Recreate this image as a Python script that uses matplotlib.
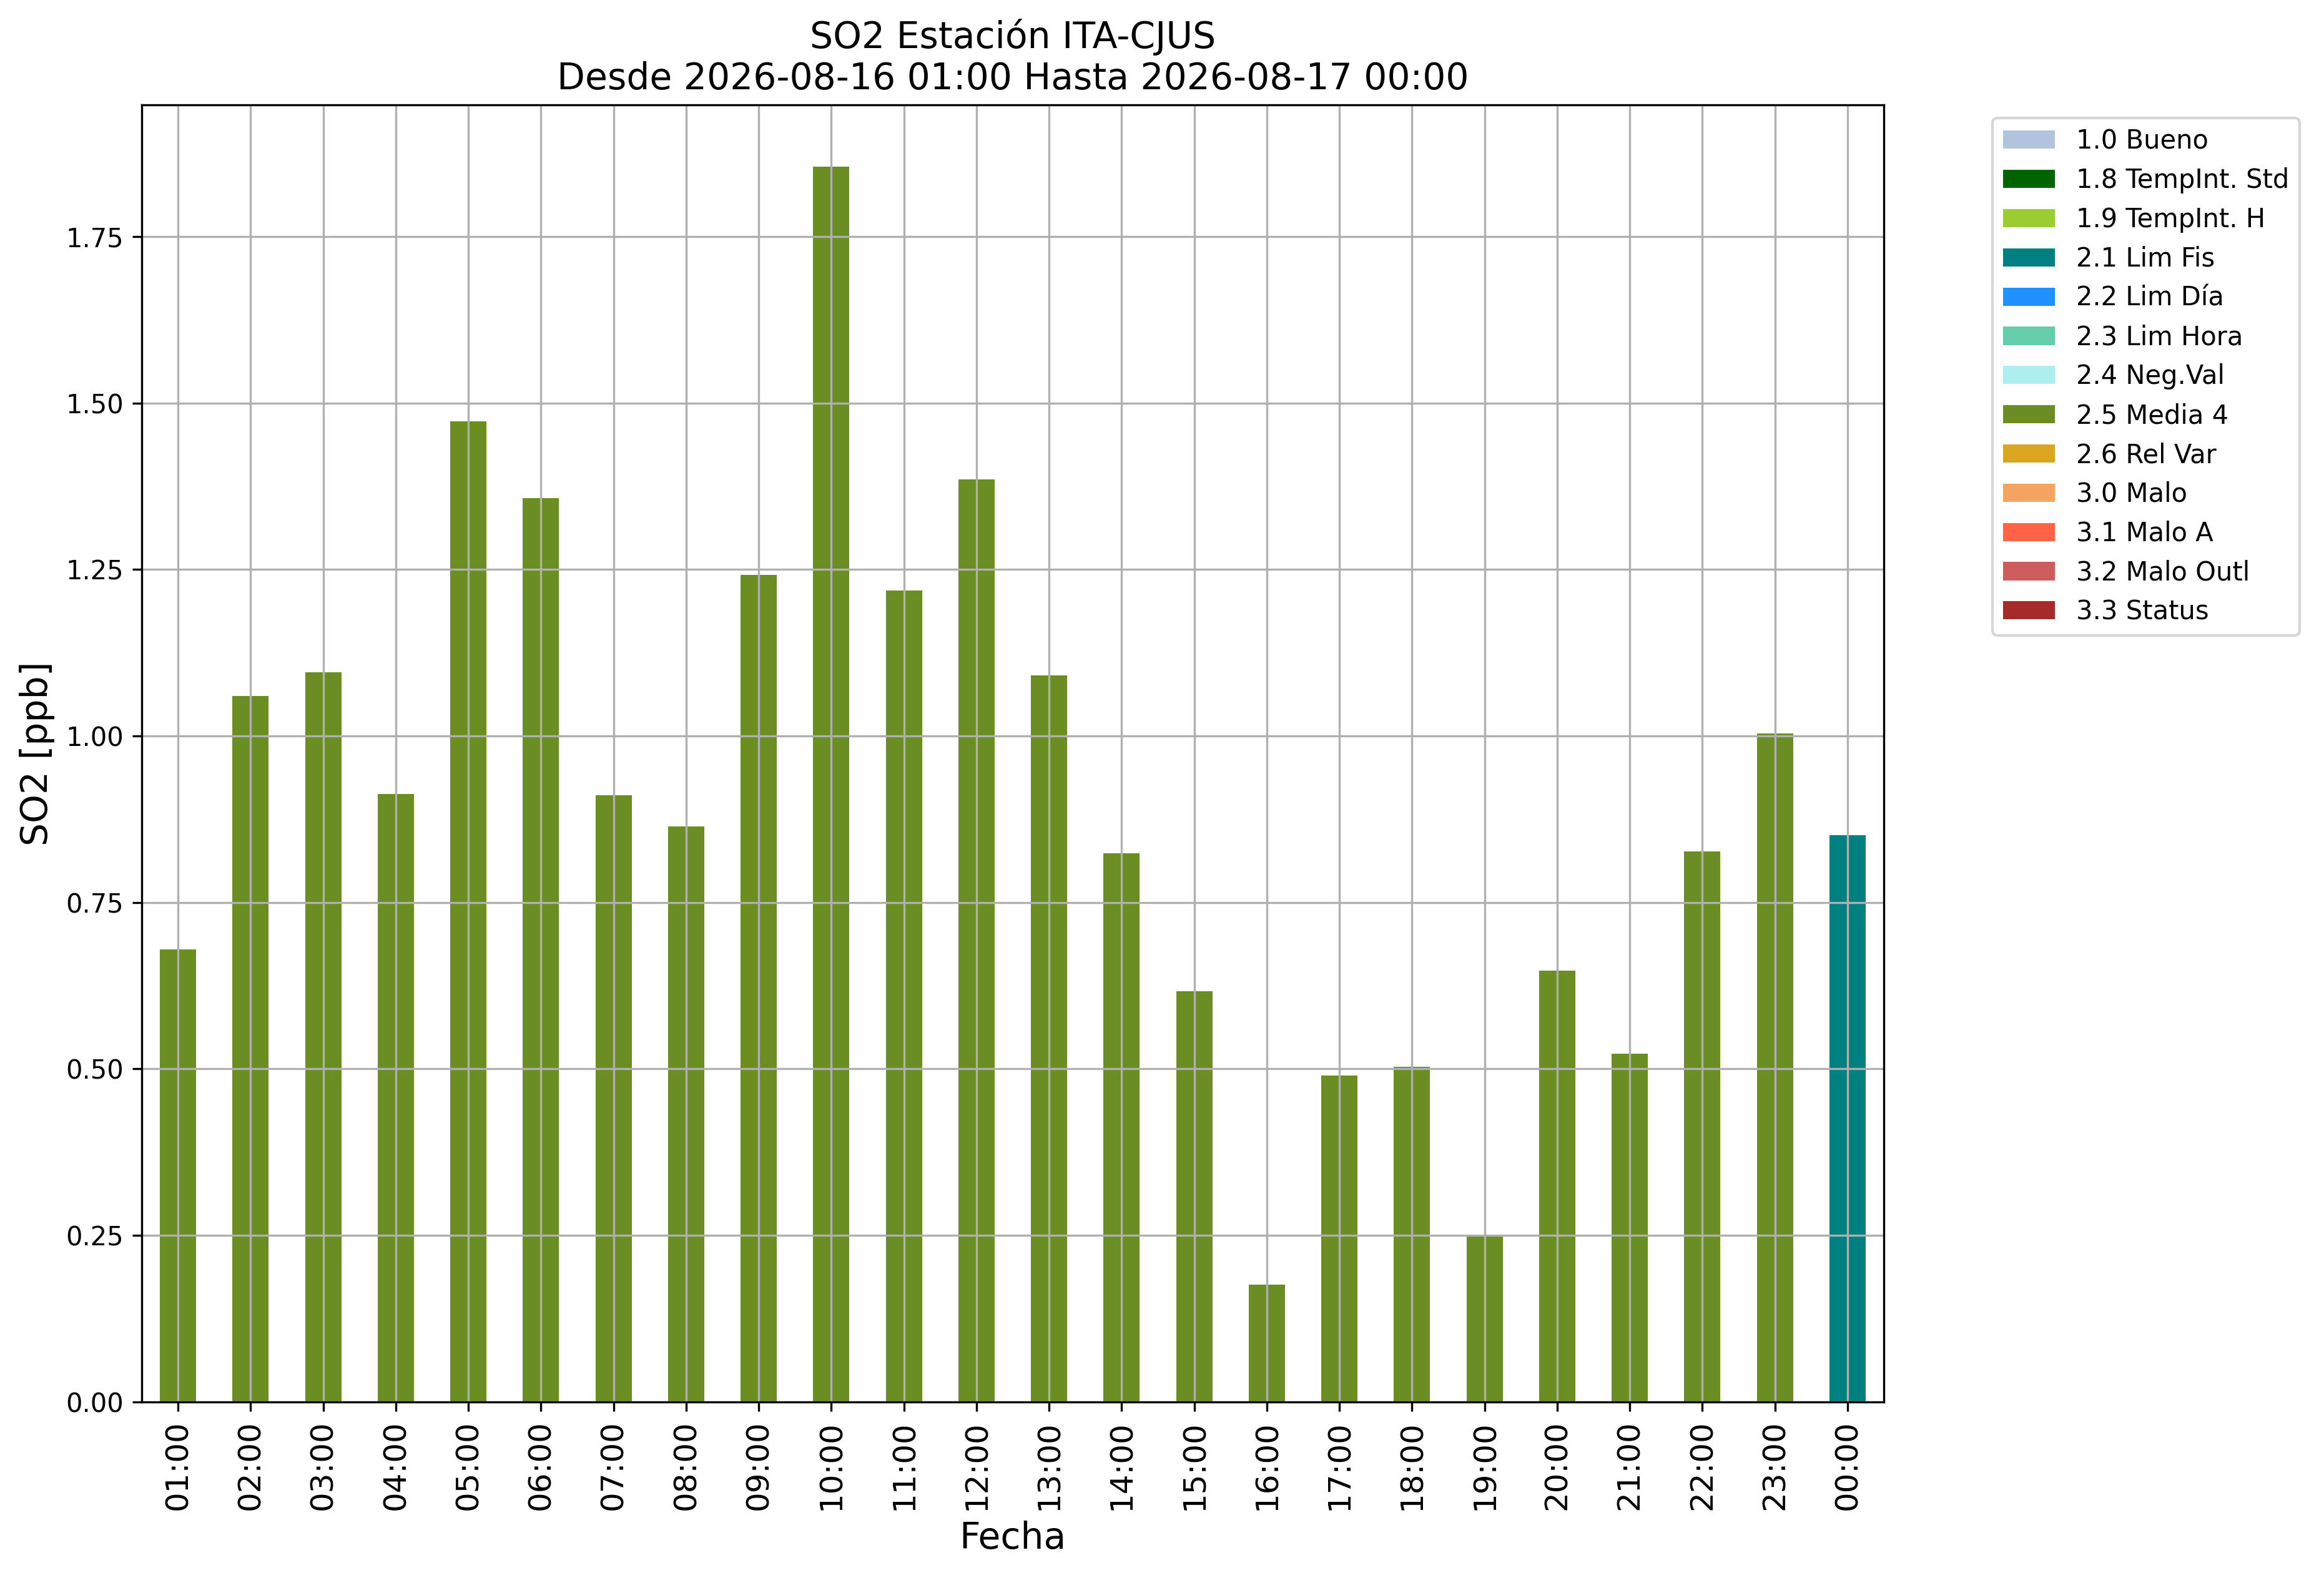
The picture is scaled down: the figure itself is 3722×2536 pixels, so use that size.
import matplotlib
matplotlib.use("Agg")
import matplotlib.pyplot as plt
import numpy as np

# hourly SO2 values and the validation flag of each hour
hours = ["01:00", "02:00", "03:00", "04:00", "05:00", "06:00", "07:00", "08:00",
         "09:00", "10:00", "11:00", "12:00", "13:00", "14:00", "15:00", "16:00",
         "17:00", "18:00", "19:00", "20:00", "21:00", "22:00", "23:00", "00:00"]
so2 = [0.679, 1.060, 1.096, 0.913, 1.472, 1.357, 0.911, 0.864,
       1.242, 1.855, 1.218, 1.385, 1.091, 0.824, 0.617, 0.176,
       0.490, 0.503, 0.249, 0.648, 0.523, 0.827, 1.004, 0.851]
hour_flags = ["2.5 Media 4"] * 23 + ["2.1 Lim Fis"]

flag_names = ["1.0 Bueno", "1.8 TempInt. Std", "1.9 TempInt. H", "2.1 Lim Fis",
              "2.2 Lim Día", "2.3 Lim Hora", "2.4 Neg.Val", "2.5 Media 4",
              "2.6 Rel Var", "3.0 Malo", "3.1 Malo A", "3.2 Malo Outl", "3.3 Status"]
flag_colors = ["lightsteelblue", "darkgreen", "yellowgreen", "teal",
               "dodgerblue", "mediumaquamarine", "paleturquoise", "olivedrab",
               "goldenrod", "sandybrown", "tomato", "indianred", "brown"]

fig = plt.figure(figsize=(3722 / 300, 2536 / 300), dpi=300)
ax = fig.add_axes([0.061, 0.1144, 0.7496, 0.8194])

x = np.arange(len(hours))
bottom = np.zeros(len(hours))
for name, color in zip(flag_names, flag_colors):
    vals = np.array([v if f == name else 0.0 for v, f in zip(so2, hour_flags)])
    ax.bar(x, vals, width=0.5, bottom=bottom, color=color, label=name)
    bottom += vals

ax.set_xlim(-0.5, len(hours) - 0.5)
# the zero-height stacked bars pin the autoscale, so add the usual 5% by hand
ax.set_ylim(0, bottom.max() * 1.05)
ax.set_xticks(x)
ax.set_xticklabels(hours, rotation=90, fontsize=12)
ax.tick_params(axis="y", labelsize=10)
ax.grid(True)

ax.set_title("SO2 Estación ITA-CJUS\nDesde 2026-08-16 01:00 Hasta 2026-08-17 00:00",
             fontsize=14)
ax.set_xlabel("Fecha", fontsize=14)
ax.set_ylabel("SO2 [ppb]", fontsize=14)

ax.legend(bbox_to_anchor=(1.055, 1), loc="upper left", fontsize=10)

fig.savefig("out.png", dpi=300)
